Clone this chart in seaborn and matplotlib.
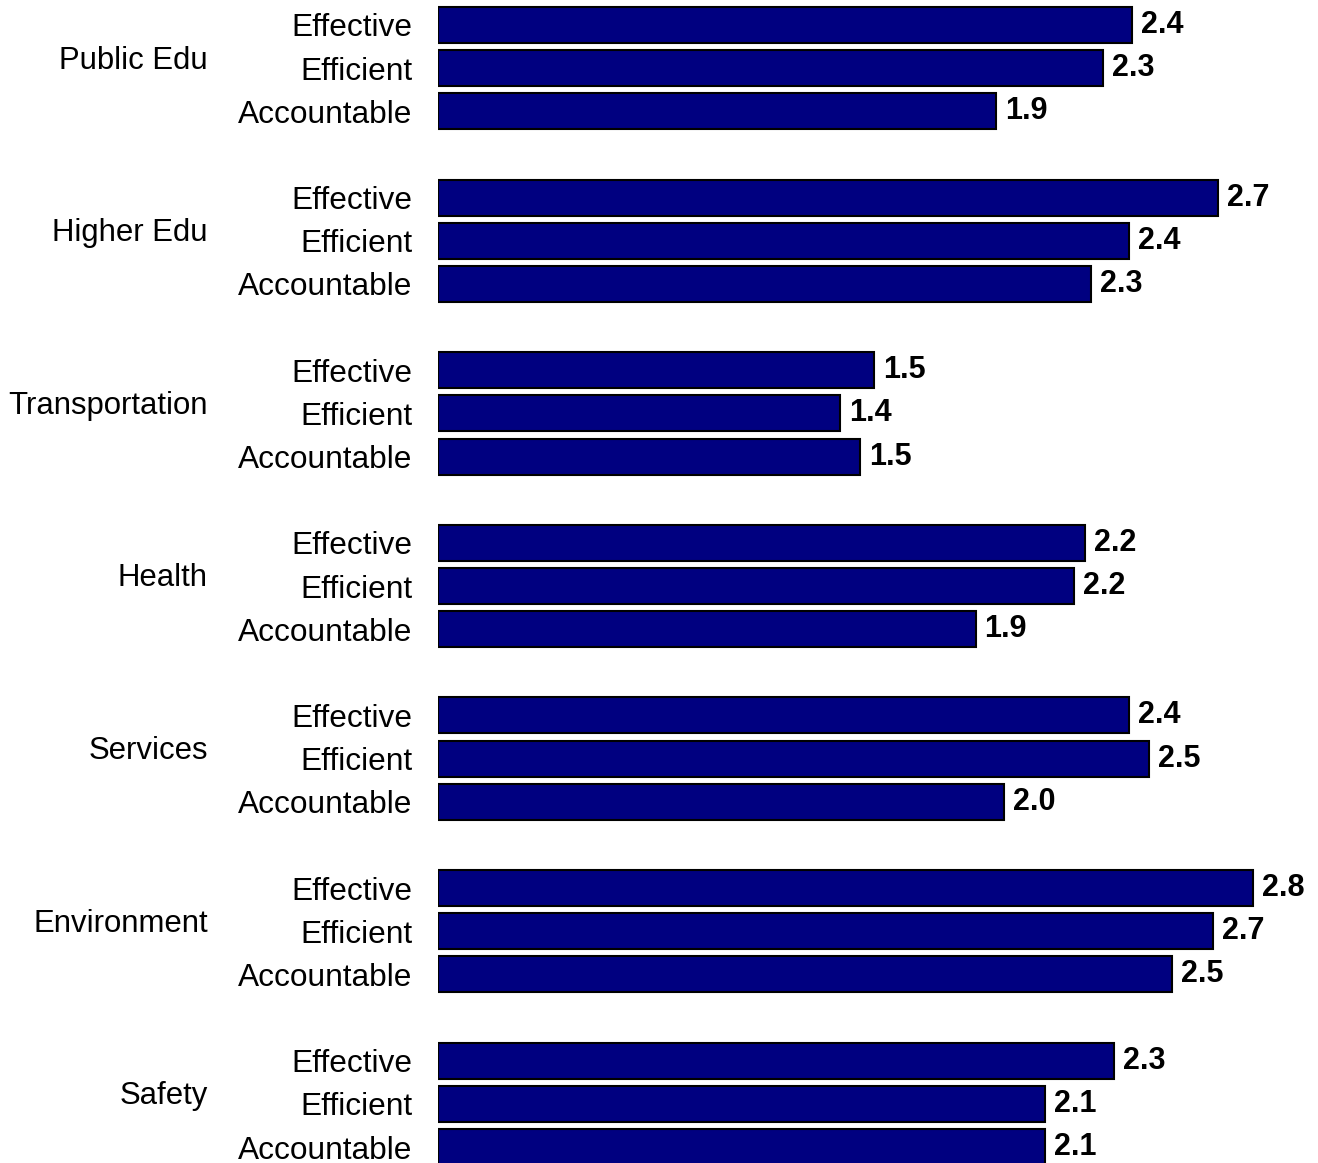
import matplotlib
matplotlib.use("Agg")
import matplotlib.pyplot as plt
import seaborn as sns
import pandas as pd

categories = ["Public Edu", "Higher Edu", "Transportation", "Health",
              "Services", "Environment", "Safety"]
metrics = ["Effective", "Efficient", "Accountable"]
effective = [2.40, 2.70, 1.51, 2.24, 2.39, 2.82, 2.34]
efficient = [2.30, 2.39, 1.39, 2.20, 2.46, 2.68, 2.10]
accountable = [1.93, 2.26, 1.46, 1.86, 1.96, 2.54, 2.10]

rows = []
for g, cat in enumerate(categories):
    for m, (name, vals) in enumerate(zip(metrics, [effective, efficient, accountable])):
        rows.append({"category": cat, "metric": name, "value": vals[g], "pos": g * 4 + m})
df = pd.DataFrame(rows)

sns.set_theme(style="white")
plt.rcParams["font.family"] = ["Liberation Sans", "DejaVu Sans"]

fig = plt.figure(figsize=(13.18, 11.63), dpi=100)
ax = fig.add_axes([438 / 1318, 0.0, 867 / 1318, 1.0])

sns.barplot(data=df, x="value", y="pos", orient="h", native_scale=True,
            color="#000080", saturation=1, edgecolor="black", linewidth=1.5,
            width=0.834, errorbar=None, ax=ax)

ax.set_xlim(0, 3)
ax.set_ylim(26.37, -0.579)
for s in ax.spines.values():
    s.set_visible(False)
ax.set_xticks([])
ax.set_xlabel("")
ax.set_ylabel("")
ax.set_yticks(df["pos"].tolist())
ax.set_yticklabels(df["metric"].tolist(), fontsize=22.8, color="black")
ax.tick_params(axis="y", length=0, pad=18.5)

ax.bar_label(ax.containers[0], fmt="%.1f", padding=6.5, fontsize=22,
             fontweight="bold", color="black")

for g, cat in enumerate(categories):
    ax.annotate(cat, xy=(208 / 1318, g * 4 + 1), xycoords=("figure fraction", "data"),
                xytext=(0, 5.5), textcoords="offset points",
                ha="right", va="center", fontsize=22.4, color="black")

fig.savefig("out.png", dpi=100)
